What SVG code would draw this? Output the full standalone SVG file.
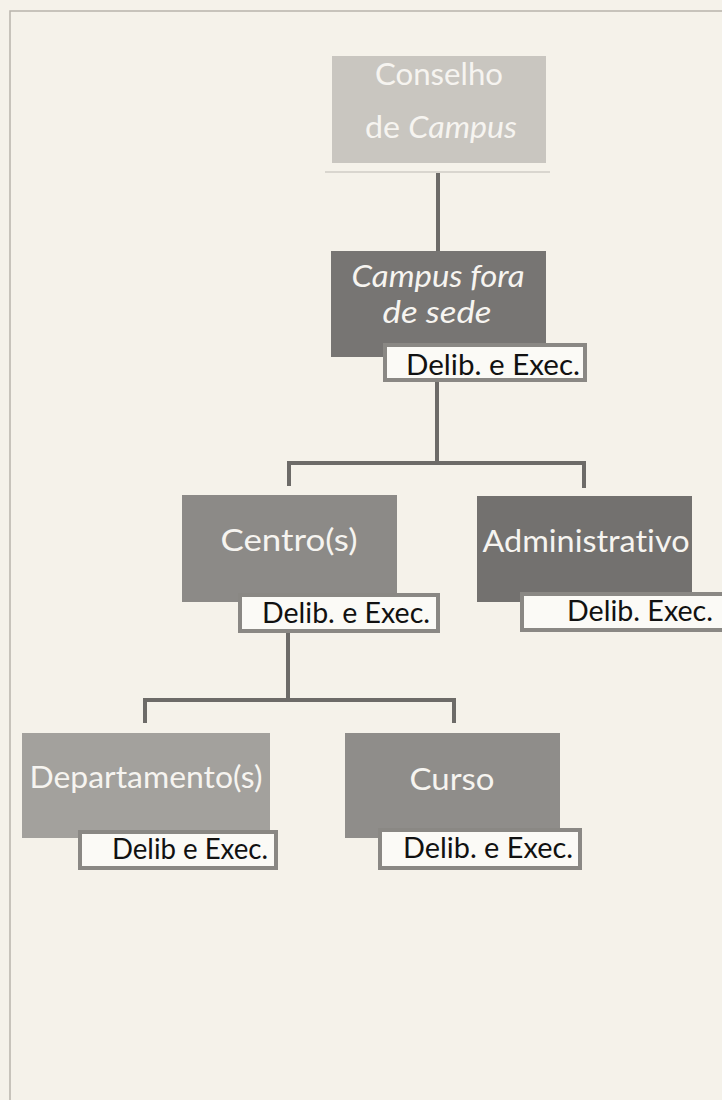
<svg xmlns="http://www.w3.org/2000/svg" width="722" height="1100" viewBox="0 0 722 1100">
<style>
.bg{fill:#f5f2ea}
.frame{fill:none;stroke:#b8b4ac;stroke-width:1.5}
.conn{fill:none;stroke:#6d6b68;stroke-width:4;stroke-linejoin:miter}
.lbl{fill:#fbfaf6;stroke:#8a8884;stroke-width:4}
.t{font-family:Lato,"Open Sans","Liberation Sans",sans-serif;fill:#f6f4f0;font-size:31px;text-anchor:middle;font-variant-ligatures:none}
.l{font-family:Lato,"Open Sans","Liberation Sans",sans-serif;fill:#111;font-size:29px;text-anchor:start;font-variant-ligatures:none}
.it{font-style:italic}
.sh{fill:none;stroke:#d9d6cf;stroke-width:2}
</style>
<rect class="bg" x="0" y="0" width="722" height="1100"/>
<path class="frame" d="M10,1100 V11 H722"/>
<g id="connectors">
<path class="conn" d="M438,172 V251"/>
<path class="conn" d="M437,381 V463"/>
<path class="conn" d="M289,486 V463 H584 V488"/>
<path class="conn" d="M288,633 V700"/>
<path class="conn" d="M145,723 V700 H454 V723"/>
</g>
<g id="conselho">
<rect x="332" y="56" width="214" height="107" fill="#c9c6c0"/>
<line class="sh" x1="325" y1="172" x2="550" y2="172"/>
<text class="t" x="439" y="85" textLength="128" lengthAdjust="spacingAndGlyphs" fill="#f2f0ec">Conselho</text>
<text class="t" x="441" y="138" textLength="152" lengthAdjust="spacingAndGlyphs">de <tspan class="it">Campus</tspan></text>
</g>
<g id="campus-fora">
<rect x="331" y="251" width="215" height="106" fill="#777573"/>
<text class="t it" x="438" y="287" textLength="173" lengthAdjust="spacingAndGlyphs">Campus fora</text>
<text class="t it" x="437" y="323" textLength="109" lengthAdjust="spacingAndGlyphs">de sede</text>
<rect class="lbl" x="385" y="345" width="200" height="35"/>
<text class="l" x="406" y="375" textLength="174" lengthAdjust="spacingAndGlyphs">Delib. e Exec.</text>
</g>
<g id="centro">
<rect x="182" y="495" width="215" height="107" fill="#8c8a87"/>
<text class="t" x="289" y="551" textLength="137" lengthAdjust="spacingAndGlyphs">Centro(s)</text>
<rect class="lbl" x="240" y="595" width="198" height="36"/>
<text class="l" x="262" y="623" textLength="168" lengthAdjust="spacingAndGlyphs">Delib. e Exec.</text>
</g>
<g id="administrativo">
<rect x="477" y="496" width="215" height="106" fill="#73716f"/>
<text class="t" x="586" y="552" textLength="207" lengthAdjust="spacingAndGlyphs">Administrativo</text>
<rect class="lbl" x="522" y="594" width="204" height="36"/>
<text class="l" x="567" y="621" textLength="146" lengthAdjust="spacingAndGlyphs">Delib. Exec.</text>
</g>
<g id="departamento">
<rect x="22" y="733" width="248" height="105" fill="#a3a19d"/>
<text class="t" x="146" y="788" textLength="233" lengthAdjust="spacingAndGlyphs">Departamento(s)</text>
<rect class="lbl" x="80" y="832" width="196" height="36"/>
<text class="l" x="112" y="859" textLength="156" lengthAdjust="spacingAndGlyphs">Delib e Exec.</text>
</g>
<g id="curso">
<rect x="345" y="733" width="215" height="105" fill="#8f8d8a"/>
<text class="t" x="452" y="790" textLength="85" lengthAdjust="spacingAndGlyphs">Curso</text>
<rect class="lbl" x="380" y="830" width="200" height="38"/>
<text class="l" x="403" y="858" textLength="170" lengthAdjust="spacingAndGlyphs">Delib. e Exec.</text>
</g>
</svg>
